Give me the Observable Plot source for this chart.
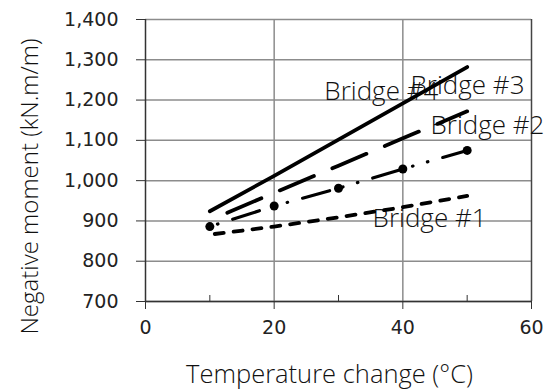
<!DOCTYPE html>
<html>
<head>
<meta charset="utf-8">
<script src="https://cdn.jsdelivr.net/npm/d3@7"></script>
<script src="https://cdn.jsdelivr.net/npm/@observablehq/plot@0.6"></script>
<style>
  html, body { margin: 0; padding: 0; background: #fff; }
  #chart svg { display: block; }
</style>
</head>
<body>
<div id="chart"></div>
<script>
const temps = [10, 20, 30, 40, 50];
const bridge1 = [866, 886, 909, 934, 962];
const bridge2 = [886, 937, 981, 1029, 1075];
const bridge3 = [902, 970, 1037, 1105, 1172];
const bridge4 = [924, 1012, 1102, 1192, 1282];

const yTicks = [700, 800, 900, 1000, 1100, 1200, 1300, 1400];
const xTicks = [0, 20, 40, 60];
const xMinorTicks = [10, 30, 50];

const labelNames = ["Bridge #4", "Bridge #3", "Bridge #2", "Bridge #1"];
const labelTemps = [27.8, 41.2, 44.3, 35.3];
const labelMoments = [1201, 1214, 1117, 886];

const rows = (vals) => temps.map((t, i) => ({t, v: vals[i]}));
const labels = labelNames.map((n, i) => ({n, t: labelTemps[i], v: labelMoments[i]}));

const lightFont = "'Open Sans', Roboto, 'Helvetica Neue', Arial, sans-serif";
const tickFont = "'DejaVu Sans', Tahoma, sans-serif";

const chart = Plot.plot({
  width: 553,
  height: 391,
  marginLeft: 145,
  marginRight: 22,
  marginTop: 19,
  marginBottom: 90,
  x: {domain: [0, 60]},
  y: {domain: [700, 1400]},
  style: {background: "#fff"},
  marks: [
    Plot.gridY(yTicks, {stroke: "#8c8c8c", strokeOpacity: 1, strokeWidth: 1.5}),
    Plot.gridX([20, 40], {stroke: "#8c8c8c", strokeOpacity: 1, strokeWidth: 1.5}),
    Plot.ruleX([60], {stroke: "#444", strokeWidth: 1.5}),
    Plot.axisY({ticks: yTicks, tickFormat: d3.format(","), tickSize: 9, tickPadding: 18,
      fontSize: 19, fontFamily: tickFont, fill: "#222", stroke: "#333", label: null}),
    Plot.axisX({ticks: xTicks, tickSize: 8, tickPadding: 11,
      fontSize: 19, fontFamily: tickFont, fill: "#222", stroke: "#333", label: null}),
    Plot.ruleX(xMinorTicks, {stroke: "#333", strokeWidth: 1, insetTop: 276}),
    Plot.ruleX([0], {stroke: "#333", strokeWidth: 1.5}),
    Plot.ruleY([700], {stroke: "#333", strokeWidth: 1.5}),
    Plot.text(labels, {x: "t", y: "v", text: "n", textAnchor: "start", lineAnchor: "bottom",
      fontSize: 26, fontFamily: lightFont, fontWeight: 300, fill: "#111"}),
    Plot.line(rows(bridge1), {x: "t", y: "v", stroke: "#000", strokeWidth: 3.8,
      strokeLinecap: "round", strokeDasharray: "9,10", strokeDashoffset: 14}),
    Plot.line(rows(bridge2), {x: "t", y: "v", stroke: "#000", strokeWidth: 3.2,
      strokeLinecap: "round", strokeDasharray: "28,13.5,0.5,15,0.5,15.5", strokeDashoffset: 49}),
    Plot.dot(rows(bridge2), {x: "t", y: "v", r: 4.5, fill: "#000"}),
    Plot.line(rows(bridge3), {x: "t", y: "v", stroke: "#000", strokeWidth: 3.8,
      strokeLinecap: "round", strokeDasharray: "37,20", strokeDashoffset: 38}),
    Plot.line(rows(bridge4), {x: "t", y: "v", stroke: "#000", strokeWidth: 3.8, strokeLinecap: "round"}),
    Plot.text(["Temperature change (°C)"], {frameAnchor: "bottom", dy: 81, dx: -9,
      fontSize: 25.5, fontFamily: lightFont, fontWeight: 300, fill: "#111"}),
    Plot.text(["Negative moment (kN.m/m)"], {frameAnchor: "left", rotate: -90, textAnchor: "middle",
      lineAnchor: "bottom", dx: -108, dy: 26,
      fontSize: 24, fontFamily: lightFont, fontWeight: 300, fill: "#111"})
  ]
});
document.getElementById("chart").append(chart);
</script>
</body>
</html>
